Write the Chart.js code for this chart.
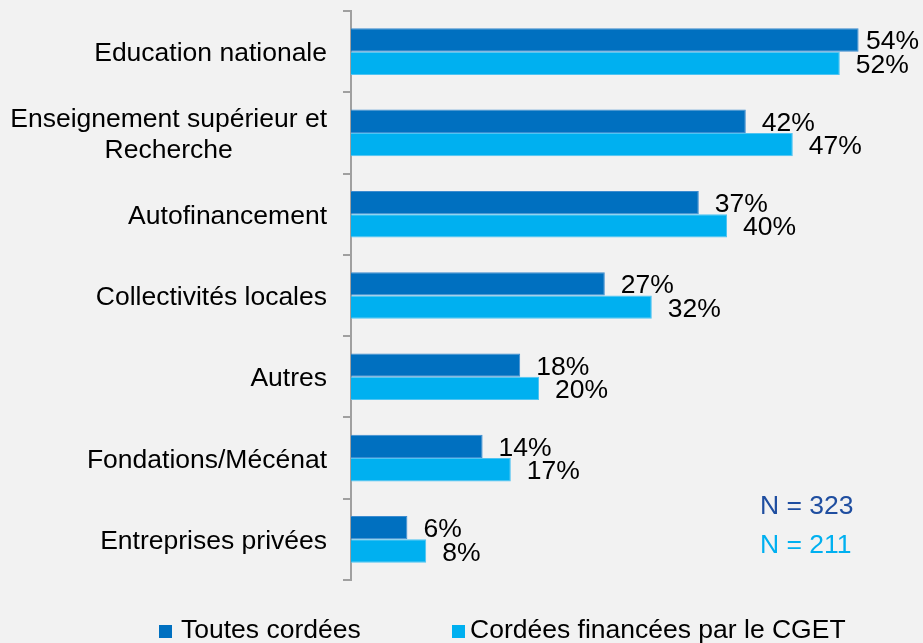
<!DOCTYPE html>
<html>
<head>
<meta charset="utf-8">
<script src="https://cdn.jsdelivr.net/npm/chart.js@4/dist/chart.umd.min.js"></script>
<style>
html,body{margin:0;padding:0;background:#f2f2f2;}
#wrap{width:923px;height:643px;position:relative;}
</style>
</head>
<body>
<div id="wrap"><canvas id="c"></canvas></div>
<script>
// ---- data ----
const categories = [
  "Education nationale",
  ["Enseignement supérieur et", "Recherche"],
  "Autofinancement",
  "Collectivités locales",
  "Autres",
  "Fondations/Mécénat",
  "Entreprises privées"
];
const seriesNames = ["Toutes cordées", "Cordées financées par le CGET"];
const toutesCordees = [54, 42, 37, 27, 18, 14, 6];
const cordeesCGET = [52, 47, 40, 32, 20, 17, 8];
const sampleNotes = ["N = 323", "N = 211"];

// ---- styles ----
const COLORS = ["#0070c0", "#00b0f0"];
const BORDERS = ["#3d8cd0", "#4fc4f2"];
const NOTE_COLORS = ["#1f4ea0", "#00b0f0"];
const FONT = '26.5px "Liberation Sans", Arial, sans-serif';
const CAP = 9.5; // half cap height for vertical centering

const bgPlugin = {
  id: 'bg',
  beforeDraw(chart) {
    const c = chart.ctx;
    c.save();
    c.fillStyle = '#f2f2f2';
    c.fillRect(0, 0, chart.width, chart.height);
    c.restore();
  }
};

const textPlugin = {
  id: 'texts',
  afterDatasetsDraw(chart) {
    const ctx = chart.ctx, ys = chart.scales.y, area = chart.chartArea;
    ctx.save();
    ctx.font = FONT;
    ctx.fillStyle = '#000';
    ctx.textBaseline = 'alphabetic';

    // category labels: block right-aligned, lines centered on each other
    chart.data.labels.forEach((lab, i) => {
      const lines = Array.isArray(lab) ? lab : [lab];
      const cy = ys.getPixelForValue(i);
      const right = area.left - 24;
      const bw = Math.max(...lines.map(l => ctx.measureText(l).width));
      const lh = 31;
      ctx.textAlign = 'center';
      lines.forEach((l, k) => {
        const by = cy - (lines.length - 1) * lh / 2 + k * lh + CAP;
        ctx.fillText(l, right - bw / 2, by);
      });
    });

    // value labels
    chart.data.datasets.forEach((ds, di) => {
      const meta = chart.getDatasetMeta(di);
      meta.data.forEach((el, j) => {
        const t = ds.data[j] + '%';
        const w = ctx.measureText(t).width;
        const x = Math.min(el.x + 16, chart.width - w - 4);
        ctx.textAlign = 'left';
        ctx.fillText(t, x, el.y + CAP);
      });
    });

    // sample size notes
    ctx.textAlign = 'left';
    sampleNotes.forEach((n, k) => {
      ctx.fillStyle = NOTE_COLORS[k];
      ctx.fillText(n, 760, 514 + k * 39);
    });

    // legend
    const legendPos = [{sq: 159, tx: 181}, {sq: 452, tx: 470}];
    chart.data.datasets.forEach((ds, di) => {
      const p = legendPos[di];
      ctx.fillStyle = ds.backgroundColor;
      ctx.fillRect(p.sq, 625, 13, 13);
      ctx.fillStyle = '#000';
      ctx.fillText(ds.label, p.tx, 638);
    });
    ctx.restore();
  }
};

new Chart(document.getElementById('c'), {
  type: 'bar',
  data: {
    labels: categories,
    datasets: [
      { label: seriesNames[0], data: toutesCordees, backgroundColor: COLORS[0], borderColor: BORDERS[0], borderWidth: 1,
        categoryPercentage: 0.574, barPercentage: 1.0 },
      { label: seriesNames[1], data: cordeesCGET, backgroundColor: COLORS[1], borderColor: BORDERS[1], borderWidth: 1,
        categoryPercentage: 0.574, barPercentage: 1.0 }
    ]
  },
  options: {
    indexAxis: 'y',
    responsive: true,
    maintainAspectRatio: false,
    animation: false,
    events: [],
    layout: { padding: { top: 11, bottom: 63, right: 8, left: 0 } },
    plugins: { legend: { display: false }, tooltip: { enabled: false }, title: { display: false } },
    scales: {
      x: { display: false, min: 0, max: 60 },
      y: {
        display: true,
        offset: true,
        ticks: { display: false },
        grid: { display: true, offset: true, drawOnChartArea: false, drawTicks: true, tickLength: 8,
                color: '#a0a0a0', lineWidth: 2 },
        border: { display: true, color: '#a0a0a0', width: 2 },
        afterFit(s) { s.width = 351; }
      }
    }
  },
  plugins: [bgPlugin, textPlugin]
});
</script>
</body>
</html>
